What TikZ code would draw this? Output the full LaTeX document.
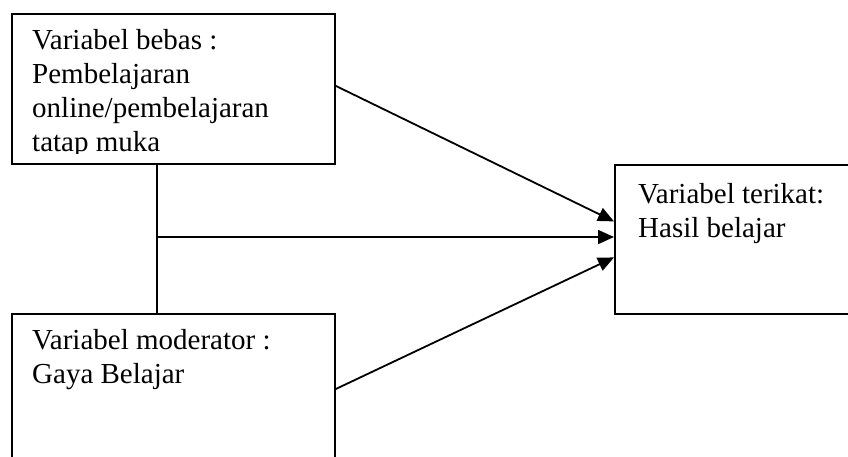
\documentclass[tikz,border=0pt]{standalone}
\usepackage{fontspec}
\setmainfont{Liberation Serif}
\usetikzlibrary{arrows.meta,calc}
\begin{document}
\begin{tikzpicture}[x=1pt,y=-1pt,
  box/.style={draw=black,line width=1.8pt,inner sep=0pt,anchor=north west},
  txt/.style={inner sep=0pt,anchor=base west,align=left,font=\fontsize{29}{33.8}\selectfont},
  conn/.style={line width=1.8pt},
  arr/.style={line width=1.8pt,-{Triangle[length=16pt,width=14pt]}}]
\useasboundingbox (0,0) rectangle (848,456);
\fill[white] (0,0) rectangle (848,456);
% boxes
\node[box,minimum width=323pt,minimum height=150pt] (top) at (11,13) {};
\node[box,minimum width=260pt,minimum height=149pt] (res) at (614,164) {};
\node[box,minimum width=323pt,minimum height=160pt] (bot) at (11,313) {};
% texts (anchored at the baseline of their last line)
\begin{scope}
\clip (11,13) rectangle (334,153);
\node[txt] (toptxt) at (32,151) {Variabel bebas :\\Pembelajaran\\online/pembelajaran\\tatap muka};
\end{scope}
\node[txt] (restxt) at (638,237) {Variabel terikat:\\Hasil belajar};
\node[txt] (bottxt) at (32,383) {Variabel moderator :\\Gaya Belajar};
% connectors
\coordinate (j) at (157,237);
\draw[conn] (top.south -| j) -- (bot.north -| j);
\draw[arr] (j) -- (res.west |- j);
\draw[arr] ([yshift=3pt]top.east) -- ([yshift=18pt]res.west);
\draw[arr] ([yshift=-76pt]bot.north east) -- ([yshift=-18pt]res.west);
\end{tikzpicture}
\end{document}
